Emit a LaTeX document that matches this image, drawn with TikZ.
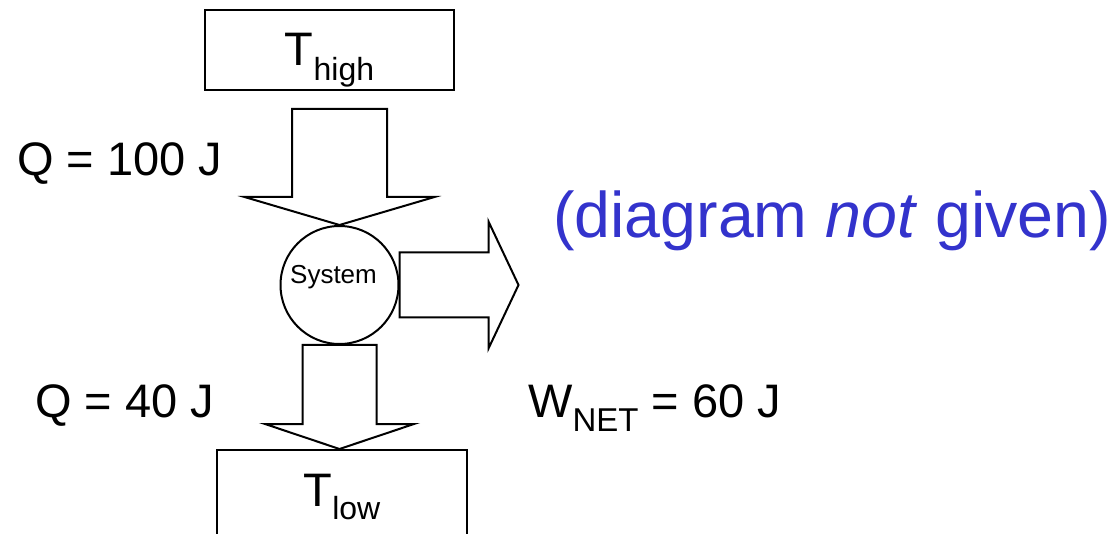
\documentclass[tikz,border=0pt]{standalone}
\usepackage{fontspec}
\setmainfont{Liberation Sans}
\usetikzlibrary{positioning,calc}
\definecolor{noteBlue}{HTML}{3333CC}

\begin{document}
\begin{tikzpicture}[
  x=1pt, y=-1pt,
  %% Node styles
  tempbox/.style={
    rectangle, draw=black, line width=2pt,
    minimum width=250pt, inner ysep=0pt,
    text height=56pt, text depth=24pt,
    font=\fontsize{47}{50}\selectfont
  },
  sysnode/.style={
    circle, draw=black, line width=2pt, fill=white,
    minimum size=118pt, inner sep=0pt,
    text height=19pt, text depth=21pt,
    font=\fontsize{26}{28}\selectfont
  },
  qlabel/.style={anchor=base west, inner sep=0pt,
                 font=\fontsize{47}{50}\selectfont},
  note/.style={anchor=base west, inner sep=0pt, text=noteBlue,
               font=\fontsize{64.5}{70}\selectfont},
  %% Arrow styles
  blockarrow/.style={draw=black, line width=2pt, fill=white,
                     line join=miter},
]

\useasboundingbox (0,0) rectangle (1116,534);
\clip (0,0) rectangle (1116,534);

%% ── System and reservoirs ──────────────────────────────────────────────────
\node[sysnode] (sys) at (339.5,285) {System\hspace*{12pt}};
\node[tempbox, anchor=north, minimum width=249pt] (high) at (329.5,9)
  {T\raisebox{-15pt}{\fontsize{32}{32}\selectfont high}};
\node[tempbox, anchor=north, text depth=60pt] (low) at (342,449)
  {T\raisebox{-13pt}{\fontsize{32}{32}\selectfont low}};

%% arrow ends
\coordinate (qinbase) at ($(high.south -| sys.north)+(0,18)$);
\coordinate (qouttip) at (sys.south |- low.north);
\coordinate (wtip)    at ($(sys.east)+(119,0)$);

%% ── Heat in ────────────────────────────────────────────────────────────────
\draw[blockarrow] let \p1=(qinbase), \p2=(sys.north) in
  (\x2-47.5pt,\y1) -- (\x2-47.5pt,\y2+28pt) -- (\x2-95pt,\y2+28pt)
  -- (\x2,\y2) -- (\x2+95pt,\y2+28pt) -- (\x2+47.5pt,\y2+28pt)
  -- (\x2+47.5pt,\y1) -- cycle;

%% ── Heat out ───────────────────────────────────────────────────────────────
\draw[blockarrow] let \p1=(sys.south), \p2=(qouttip) in
  (\x2-37pt,\y1) -- (\x2-37pt,\y2+25pt) -- (\x2-74.5pt,\y2+25pt)
  -- (\x2,\y2) -- (\x2+74.5pt,\y2+25pt) -- (\x2+37pt,\y2+25pt)
  -- (\x2+37pt,\y1) -- cycle;

%% ── Work out ───────────────────────────────────────────────────────────────
\draw[blockarrow] let \p1=(sys.east), \p2=(wtip) in
  (\x1,\y2+32.5pt) -- (\x2-30pt,\y2+32.5pt) -- (\x2-30pt,\y2+63.5pt)
  -- (\x2,\y2) -- (\x2-30pt,\y2-63.5pt) -- (\x2-30pt,\y2-32.5pt)
  -- (\x1,\y2-32.5pt) -- cycle;

%% ── Labels ─────────────────────────────────────────────────────────────────
\node[qlabel] (qhot)  at (17,176)  {Q = 100 J};
\node[qlabel] (qcold) at (35,417)  {Q = 40 J};
\node[qlabel] (wnet)  at (528,417)
  {W\raisebox{-14pt}{\fontsize{33}{33}\selectfont NET} = 60 J};
\node[note] (nodiag) at (553,238) {(diagram \textit{not} given)};

\end{tikzpicture}
\end{document}
